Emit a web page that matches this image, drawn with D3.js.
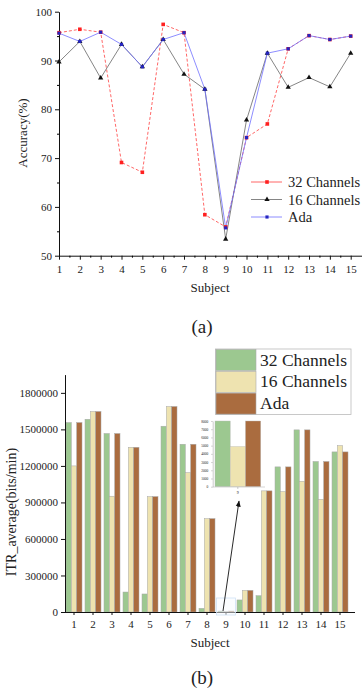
<!DOCTYPE html>
<html>
<head>
<meta charset="utf-8">
<script src="https://cdn.jsdelivr.net/npm/d3@7"></script>
<style>
  body { margin: 0; background: #fff; }
  text { font-family: "Liberation Serif", "DejaVu Serif", serif; fill: #222; }
</style>
</head>
<body>
<div id="chart"></div>
<script>
// --- datos
const subjects = [1, 2, 3, 4, 5, 6, 7, 8, 9, 10, 11, 12, 13, 14, 15];
const seriesNames = ['32 Channels', '16 Channels', 'Ada'];

const acc32 = [95.7, 96.4, 95.8, 69.1, 67.1, 97.4, 95.7, 58.4, 55.9, 74.2, 77.0, 92.4, 95.1, 94.3, 95.0];
const acc16 = [89.7, 93.9, 86.4, 93.3, 88.7, 94.3, 87.2, 84.1, 53.4, 77.8, 91.5, 84.5, 86.5, 84.6, 91.5];
const accAda = [95.6, 93.9, 95.8, 93.3, 88.7, 94.3, 95.7, 84.1, 55.7, 74.2, 91.5, 92.4, 95.1, 94.3, 95.0];

const itr32 = [1556000, 1583000, 1466000, 164000, 148000, 1526000, 1378000, 30000, 8000, 99000, 134000, 1192000, 1496000, 1236000, 1315000];
const itr16 = [1200000, 1647000, 951000, 1353000, 948000, 1688000, 1145000, 767000, 4900, 178000, 995000, 989000, 1074000, 926000, 1367000];
const itrAda = [1556000, 1647000, 1466000, 1353000, 948000, 1688000, 1378000, 767000, 8000, 178000, 995000, 1192000, 1496000, 1236000, 1315000];

const accTicks = [50, 60, 70, 80, 90, 100];
const itrTicks = [0, 300000, 600000, 900000, 1200000, 1500000, 1800000];
const insetTicks = [0, 1000, 2000, 3000, 4000, 5000, 6000, 7000, 8000];

const svg = d3.select('#chart').append('svg')
  .attr('width', 363).attr('height', 692);

svg.append('defs').append('marker')
  .attr('id', 'flecha')
  .attr('viewBox', '0 0 10 10')
  .attr('refX', 9).attr('refY', 5)
  .attr('markerWidth', 7).attr('markerHeight', 7)
  .attr('orient', 'auto')
  .append('path').attr('d', 'M0,1 L10,5 L0,9 Z').attr('fill', '#111');

// ================= (a) Accuracy =================
const xA = d3.scaleLinear().domain([1, 15]).range([59, 350.7]);
const yA = d3.scaleLinear().domain([50, 100]).range([255.7, 11.7]);

const gA = svg.append('g');

const ejeYA = gA.append('g').attr('transform', 'translate(59,0)')
  .call(d3.axisLeft(yA).tickValues(accTicks).tickSize(4).tickSizeOuter(0));
gA.append('g').attr('transform', 'translate(59,0)')
  .call(d3.axisLeft(yA).tickValues(d3.range(55, 100, 10)).tickSize(2).tickFormat(''))
  .select('.domain').remove();

const ejeXA = gA.append('g').attr('transform', 'translate(0,255.7)')
  .call(d3.axisBottom(xA).tickValues(subjects).tickSize(4).tickSizeOuter(0).tickFormat(d3.format('d')));
gA.append('g').attr('transform', 'translate(0,255.7)')
  .call(d3.axisBottom(xA).tickValues(d3.range(1.5, 15.5, 1)).tickSize(2).tickFormat(''))
  .select('.domain').remove();
ejeXA.select('.domain').attr('d', 'M59,0.5H362');

[ejeYA, ejeXA].forEach(ax => {
  ax.selectAll('text').style('font-family', '"Liberation Serif", serif').style('font-size', '11px').attr('fill', '#222');
  ax.selectAll('line,path').attr('stroke', '#111');
});
ejeXA.selectAll('text').attr('dy', '0.9em');

gA.append('text').attr('transform', 'translate(27,133) rotate(-90)')
  .attr('text-anchor', 'middle').style('font-size', '13px').text('Accuracy(%)');
gA.append('text').attr('x', 210).attr('y', 292)
  .attr('text-anchor', 'middle').style('font-size', '13px').text('Subject');
gA.append('text').attr('x', 202).attr('y', 333)
  .attr('text-anchor', 'middle').style('font-size', '19px').text('(a)');

const lineasA = [
  { name: seriesNames[0], values: acc32, color: '#ff4040', dash: '3,2', marker: 'square', msize: 13, mcolor: '#ff2020' },
  { name: seriesNames[1], values: acc16, color: '#666', dash: null, marker: 'triangle', msize: 12, mcolor: '#111' },
  { name: seriesNames[2], values: accAda, color: '#7070ff', dash: null, marker: 'square', msize: 10, mcolor: '#2525c0' }
];

const linea = d3.line().x((d, i) => xA(subjects[i])).y(d => yA(d));

lineasA.forEach(s => {
  gA.append('path')
    .attr('d', linea(s.values))
    .attr('fill', 'none')
    .attr('stroke', s.color)
    .attr('stroke-width', 0.8)
    .attr('stroke-dasharray', s.dash);
});
lineasA.forEach(s => {
  const sym = d3.symbol().type(s.marker === 'square' ? d3.symbolSquare : d3.symbolTriangle).size(s.msize);
  gA.selectAll(null).data(s.values).enter().append('path')
    .attr('d', sym)
    .attr('transform', (d, i) => `translate(${xA(subjects[i])},${yA(d)})`)
    .attr('fill', s.mcolor);
});

// leyenda (a)
const legA = gA.append('g');
lineasA.forEach((s, i) => {
  const y = 182 + i * 17.5;
  legA.append('line').attr('x1', 251).attr('x2', 282).attr('y1', y).attr('y2', y)
    .attr('stroke', s.color).attr('stroke-width', 0.8);
  legA.append('path')
    .attr('d', d3.symbol().type(s.marker === 'square' ? d3.symbolSquare : d3.symbolTriangle).size(s.msize))
    .attr('transform', `translate(267,${y})`).attr('fill', s.mcolor);
  legA.append('text').attr('x', 288).attr('y', y + 5)
    .style('font-size', '14.5px').text(s.name);
});

// ================= (b) ITR =================
const colores = ['#9cc890', '#eee3b0', '#aa6c3f'];
const itrSeries = [itr32, itr16, itrAda];

const xB = d3.scaleBand().domain(subjects).range([64.5, 349.5]).padding(0);
const xB1 = d3.scaleBand().domain(seriesNames).range([-8, 8]);
const yB = d3.scaleLinear().domain([0, 1950000]).range([612, 374.6]);

const gB = svg.append('g');

const tabla = subjects.map((s, i) => ({ subject: s, vals: itrSeries.map((arr, k) => ({ name: seriesNames[k], v: arr[i], k })) }));

gB.selectAll('g.grupo').data(tabla).enter().append('g')
  .attr('class', 'grupo')
  .attr('transform', d => `translate(${xB(d.subject) + xB.bandwidth() / 2},0)`)
  .selectAll('rect').data(d => d.vals).enter().append('rect')
  .attr('x', d => xB1(d.name))
  .attr('width', xB1.bandwidth())
  .attr('y', d => yB(d.v))
  .attr('height', d => 612 - yB(d.v))
  .attr('fill', d => colores[d.k])
  .attr('stroke', '#a8a8a8')
  .attr('stroke-width', 0.5);

const ejeYB = gB.append('g').attr('transform', 'translate(65,0)')
  .call(d3.axisLeft(yB).tickValues(itrTicks).tickSize(4).tickSizeOuter(0).tickFormat(d3.format('d')));
const ejeXB = gB.append('g').attr('transform', 'translate(0,612)')
  .call(d3.axisBottom(xB).tickSize(3).tickSizeOuter(0));
ejeXB.select('.domain').attr('d', 'M65,0.5H355');
[ejeYB, ejeXB].forEach(ax => {
  ax.selectAll('text').style('font-family', '"Liberation Serif", serif').style('font-size', '11px').attr('fill', '#222');
  ax.selectAll('line,path').attr('stroke', '#111');
});
ejeXB.selectAll('text').attr('dy', '0.95em');

gB.append('text').attr('transform', 'translate(16,512) rotate(-90)')
  .attr('text-anchor', 'middle').style('font-size', '14px').text('ITR_average(bits/min)');
gB.append('text').attr('x', 210).attr('y', 647)
  .attr('text-anchor', 'middle').style('font-size', '13px').text('Subject');
gB.append('text').attr('x', 202).attr('y', 684)
  .attr('text-anchor', 'middle').style('font-size', '19px').text('(b)');

// recuadro del sujeto 9
const x9 = xB(9) + xB.bandwidth() / 2;
gB.append('rect').attr('x', x9 - 9.5).attr('y', 598).attr('width', 19).attr('height', 17)
  .attr('fill', '#f8fbff').attr('fill-opacity', 0.5).attr('stroke', '#cfe2f5').attr('stroke-width', 0.8);

// inset con el sujeto 9
const xI = d3.scaleBand().domain(seriesNames).range([215, 260.7]);
const yI = d3.scaleLinear().domain([0, 8000]).range([486.7, 421]);
const gI = gB.append('g');
gI.selectAll('rect').data(itrSeries.map((arr, k) => ({ name: seriesNames[k], v: arr[8], k }))).enter().append('rect')
  .attr('x', d => xI(d.name)).attr('width', xI.bandwidth())
  .attr('y', d => yI(d.v)).attr('height', d => 486.7 - yI(d.v))
  .attr('fill', d => colores[d.k]).attr('stroke', '#bbb').attr('stroke-width', 0.4);
const ejeYI = gI.append('g').attr('transform', 'translate(212.7,0)')
  .call(d3.axisLeft(yI).tickValues(insetTicks).tickSize(1.5).tickSizeOuter(0).tickFormat(d3.format('d')));
ejeYI.selectAll('text').style('font-size', '3.5px').attr('fill', '#555');
ejeYI.selectAll('line,path').attr('stroke', '#999').attr('stroke-width', 0.5);
gI.append('line').attr('x1', 212.7).attr('x2', 265).attr('y1', 487).attr('y2', 487)
  .attr('stroke', '#bbb').attr('stroke-width', 0.6);
gI.append('line').attr('x1', 237.8).attr('x2', 237.8).attr('y1', 487).attr('y2', 489)
  .attr('stroke', '#999').attr('stroke-width', 0.5);
gI.append('text').attr('x', 237.8).attr('y', 494).attr('text-anchor', 'middle')
  .style('font-size', '4px').attr('fill', '#555').text('9');

// flecha
gB.append('line').attr('x1', 223).attr('y1', 611).attr('x2', 239).attr('y2', 501)
  .attr('stroke', '#111').attr('stroke-width', 0.9).attr('marker-end', 'url(#flecha)');

// leyenda (b)
const legB = gB.append('g');
legB.append('rect').attr('x', 215.5).attr('y', 349).attr('width', 135.5).attr('height', 65.5)
  .attr('fill', '#fff').attr('stroke', '#bbb').attr('stroke-width', 0.8);
seriesNames.forEach((n, i) => {
  const y = 349 + i * 21.8;
  legB.append('rect').attr('x', 216).attr('y', y + 0.5).attr('width', 40).attr('height', 21)
    .attr('fill', colores[i]).attr('stroke', '#aaa').attr('stroke-width', 0.6);
  legB.append('text').attr('x', 260).attr('y', y + 16.5)
    .style('font-size', '17.5px').text(n);
});
</script>
</body>
</html>
